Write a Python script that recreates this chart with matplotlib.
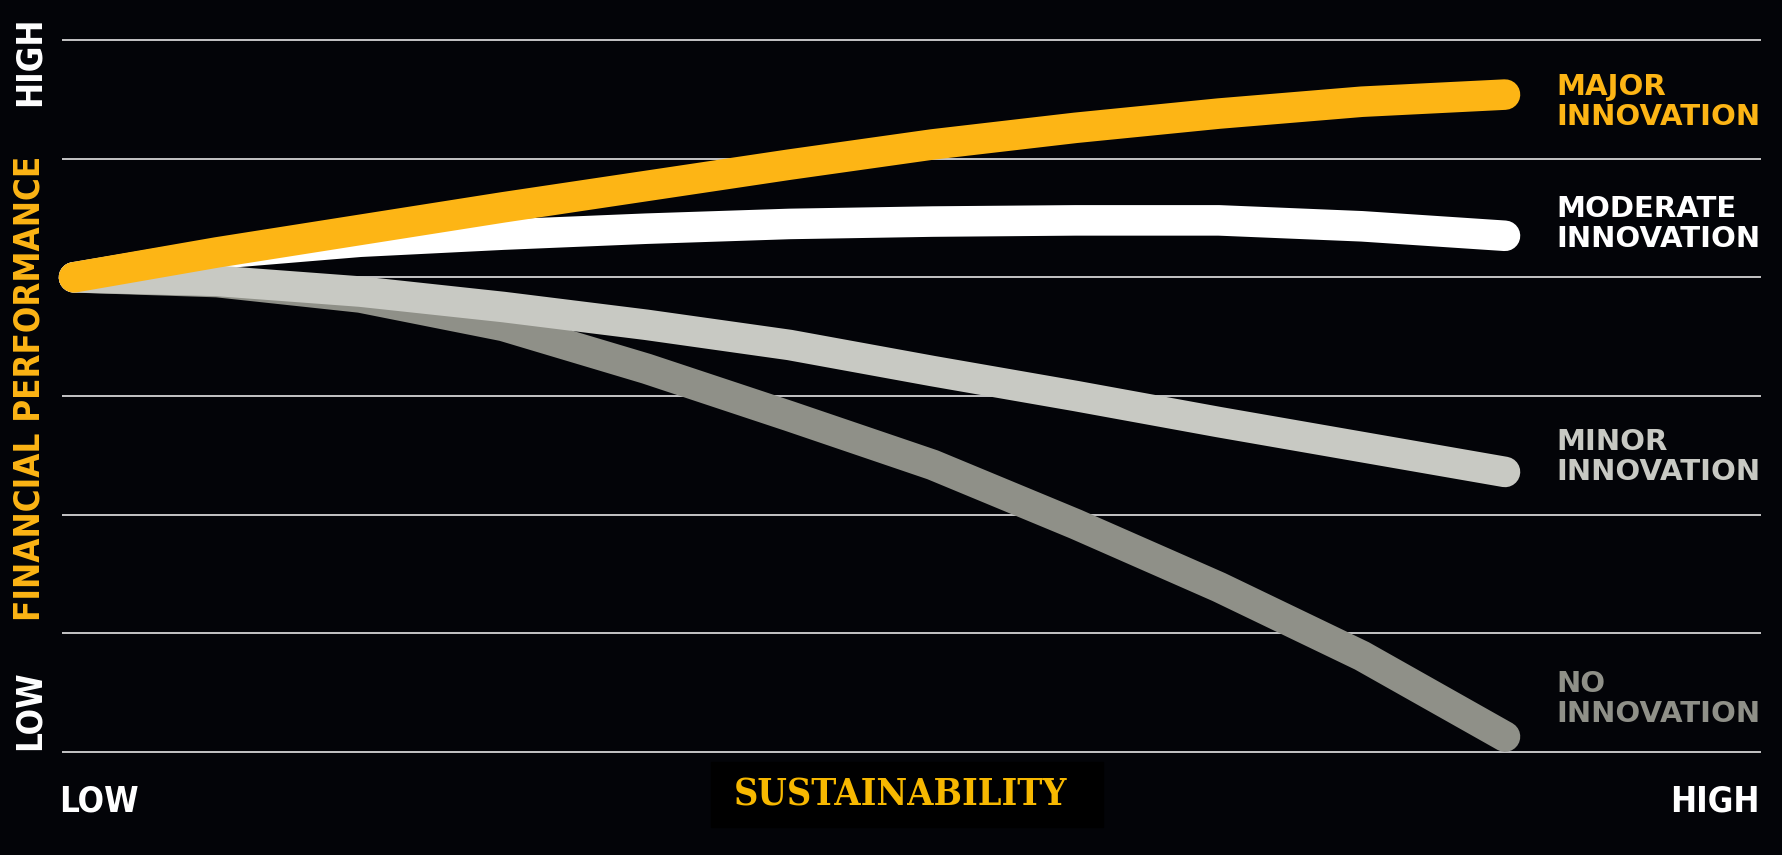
import numpy as np
import matplotlib
matplotlib.use("Agg")
import matplotlib.pyplot as plt

# sustainability steps, LOW (0) .. HIGH (10)
sustain = [0, 1, 2, 3, 4, 5, 6, 7, 8, 9, 10]

# financial performance, grid units 0 (LOW) .. 6 (HIGH)
major    = [4.0, 4.21, 4.40, 4.59, 4.77, 4.95, 5.12, 5.26, 5.38, 5.48, 5.54]
moderate = [4.0, 4.20, 4.30, 4.36, 4.41, 4.45, 4.47, 4.48, 4.48, 4.43, 4.35]
minor    = [4.0, 3.97, 3.88, 3.75, 3.60, 3.43, 3.21, 3.00, 2.78, 2.57, 2.36]
no_innov = [4.0, 3.96, 3.83, 3.59, 3.23, 2.83, 2.42, 1.92, 1.39, 0.81, 0.13]

grid_levels = [0, 1, 2, 3, 4, 5, 6]

series_labels = ["MAJOR\nINNOVATION", "MODERATE\nINNOVATION",
                 "MINOR\nINNOVATION", "NO\nINNOVATION"]

W, H = 1783, 855
bg = "#030408"
yellow = "#FDB515"
light = "#C8C9C3"
dark = "#8F9088"

fig = plt.figure(figsize=(W / 100, H / 100), dpi=100, facecolor=bg)
ax = fig.add_axes([0, 0, 1, 1])
ax.set_facecolor(bg)

# pixel mapping: x=0 -> 74px, x=10 -> 1505px ; y=0 -> 752px, y=6 -> 40px
sx = (1505 - 74) / 10.0
sy = (752 - 40) / 6.0
ax.set_xlim(-74 / sx, (W - 74) / sx)
ax.set_ylim(-(H - 752) / sy, 6 + 40 / sy)
ax.axis("off")

ax.hlines(grid_levels, (62 - 74) / sx, (1761 - 74) / sx,
          colors="#D4D4D4", linewidth=1.3, zorder=0)

lw = 22
kw = dict(lw=lw, solid_capstyle="round", solid_joinstyle="round")
ax.plot(sustain, no_innov, color=dark, zorder=1, **kw)
ax.plot(sustain, moderate, color="white", zorder=2, **kw)
ax.plot(sustain, minor, color=light, zorder=3, **kw)
ax.plot(sustain, major, color=yellow, zorder=4, **kw)


def fx(px):
    return px / W


def fy(py):
    return 1 - py / H


# right-hand series labels
label_y = [102, 224, 457, 699]
label_c = [yellow, "white", light, dark]
for lab, py, c in zip(series_labels, label_y, label_c):
    fig.text(fx(1556), fy(py), lab, color=c, fontsize=21, fontweight="bold",
             family="DejaVu Sans", ha="left", va="center", linespacing=1.12)

# vertical axis
fig.text(fx(30), fy(61), "HIGH", rotation=90, color="white", fontsize=25,
         fontweight="bold", fontstretch="condensed", ha="center", va="center")
fig.text(fx(30), fy(388), "FINANCIAL PERFORMANCE", rotation=90, color=yellow,
         fontsize=25, fontweight="bold", fontstretch="condensed",
         ha="center", va="center")
fig.text(fx(30), fy(710), "LOW", rotation=90, color="white", fontsize=25,
         fontweight="bold", fontstretch="condensed", ha="center", va="center")

# horizontal axis
fig.text(fx(59), fy(801), "LOW", color="white", fontsize=25, fontweight="bold",
         fontstretch="condensed", ha="left", va="center")
fig.text(fx(1760), fy(801), "HIGH", color="white", fontsize=25,
         fontweight="bold", fontstretch="condensed", ha="right", va="center")

box = plt.Rectangle((fx(711), fy(827)), fx(1103) - fx(711), fy(762) - fy(827),
                    transform=fig.transFigure, color="black", zorder=5)
fig.patches.append(box)
fig.text(fx(900), fy(795), "SUSTAINABILITY", color="#F7B800", fontsize=27,
         fontweight="bold", family="DejaVu Serif", fontstretch="condensed",
         ha="center", va="center", zorder=6)

fig.savefig("out.png", dpi=100, facecolor=bg)
